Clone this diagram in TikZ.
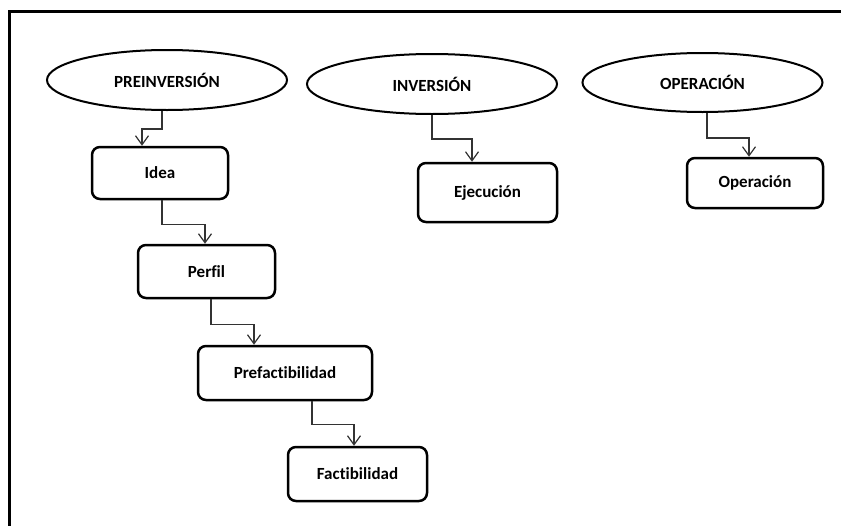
\documentclass[tikz,border=0pt]{standalone}
\usepackage{fontspec}
\setmainfont{Carlito}[Ligatures={NoCommon}]
\usetikzlibrary{shapes.geometric,arrows.meta}
\begin{document}
\begin{tikzpicture}[x=1pt,y=-1pt,
  phase/.style={draw,ellipse,line width=2pt,inner sep=0pt,font=\fontsize{17}{19}\selectfont\bfseries},
  stage/.style={draw,rectangle,rounded corners=8pt,line width=2.5pt,inner sep=0pt,font=\fontsize{17}{19}\selectfont\bfseries},
  arr/.style={draw=black!80,line width=1.2pt,-{Straight Barb[length=9pt,width=13pt,line width=1.2pt]}}]
\useasboundingbox (0,0) rectangle (841,525);
\draw[line width=3pt] (9,540) -- (9,11) -- (860,11);
\node[phase,minimum width=240pt,minimum height=60pt] (pre) at (167,80) {PREINVERSIÓN};
\node[phase,minimum width=250pt,minimum height=60pt] (inv) at (432,84) {INVERSIÓN};
\node[phase,minimum width=240pt,minimum height=59pt] (ope) at (702.5,82.5) {OPERACIÓN};
\node[stage,minimum width=136pt,minimum height=52pt] (idea) at (160,173) {Idea};
\node[stage,minimum width=139pt,minimum height=59pt] (eje) at (487.5,192.5) {Ejecución};
\node[stage,minimum width=136pt,minimum height=50pt] (opn) at (755,183) {Operación};
\node[stage,minimum width=137pt,minimum height=53pt] (per) at (206.5,271.5) {Perfil};
\node[stage,minimum width=174pt,minimum height=54pt] (pref) at (285,373) {Prefactibilidad};
\node[stage,minimum width=139pt,minimum height=54pt] (fact) at (357.5,474) {Factibilidad};
\draw[arr] ([xshift=-5pt]pre.south) -- ++(0,18) -| ([xshift=-18pt]idea.north);
\draw[arr] (inv.south) -- ++(0,24) -| ([xshift=-15.5pt]eje.north);
\draw[arr] ([xshift=4.5pt]ope.south) -- ++(0,25) -| ([xshift=-6pt]opn.north);
\draw[arr] ([xshift=2pt]idea.south) -- ++(0,24) -| ([xshift=-1.5pt]per.north);
\draw[arr] ([xshift=4.5pt]per.south) -- ++(0,25) -| ([xshift=-31pt]pref.north);
\draw[arr] ([xshift=27pt]pref.south) -- ++(0,23) -| ([xshift=-3.5pt]fact.north);
\end{tikzpicture}
\end{document}
